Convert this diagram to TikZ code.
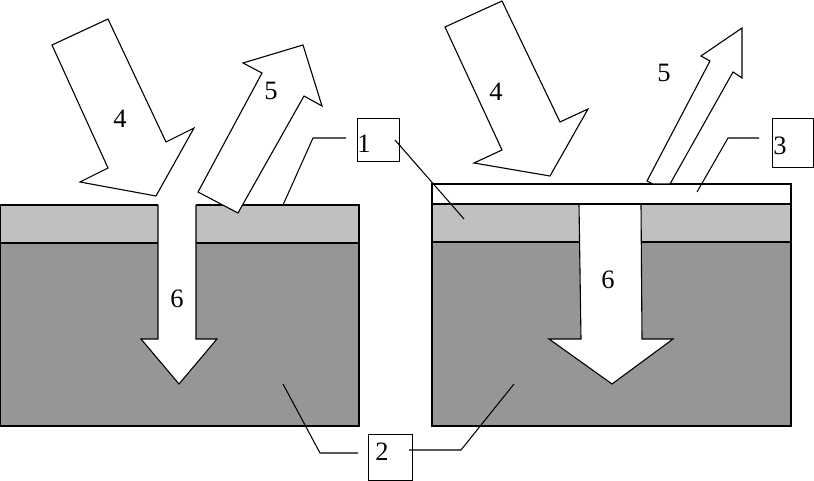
\documentclass[tikz,border=0pt]{standalone}
\usepackage{fontspec}
\setmainfont{Liberation Serif}
\definecolor{lightband}{RGB}{192,192,192}
\definecolor{darkbulk}{RGB}{150,150,150}
\begin{document}
\begin{tikzpicture}[x=1pt,y=-1pt,line join=miter,
  outline/.style={draw=black,line width=1.1pt},
  arrowshape/.style={fill=white,draw=black,line width=1.1pt},
  leader/.style={draw=black,line width=1.05pt},
  lbox/.style={draw=black,line width=1pt,fill=white,inner sep=0pt},
  num/.style={font=\fontsize{26.5}{26.5}\selectfont,inner sep=0pt}]
\useasboundingbox (0,0) rectangle (814,481);
% ---------- left sample ----------
\fill[darkbulk] (0,243) rectangle (359,426);
\fill[lightband] (0,205) rectangle (359,243);
\draw[outline] (0.6,205) rectangle (359,426);
\draw[outline] (0.6,243) -- (359,243);
% arrow 6 (left)
\fill[white] (158,203) -- (158,339) -- (141,339) -- (179,384) -- (217,339) -- (196,339) -- (196,203) -- cycle;
\draw[outline] (158,205) -- (158,339) -- (141,339) -- (179,384) -- (217,339) -- (196,339) -- (196,205);
% arrow 4 (left)
\draw[arrowshape] (52,45) -- (108,19) -- (166,142) -- (194,128) -- (156,196) -- (80,182) -- (108,168) -- cycle;
% arrow 5 (left)
\draw[arrowshape] (198,192) -- (238,213) -- (304,96) -- (322,106) -- (303,45) -- (243,63) -- (262,73) -- cycle;
% ---------- right sample ----------
\fill[darkbulk] (432,242) rectangle (791,426);
\fill[lightband] (432,204) rectangle (791,242);
\fill[white] (432,184) rectangle (791,204);
% arrow 6 (right) gap
\fill[white] (579,205) -- (581,339) -- (549,339) -- (612,384) -- (673,339) -- (642,339) -- (641,205) -- cycle;
\draw[outline] (432,184) rectangle (791,426);
\draw[outline] (432,204) -- (791,204);
\draw[outline] (432,242) -- (579.5,242);
\draw[outline] (641.5,242) -- (791,242);
\draw[outline] (579,204) -- (581,339) -- (549,339) -- (612,384) -- (673,339) -- (642,339) -- (641,204);
% arrow 4 (right)
\draw[arrowshape] (445,27) -- (502,1) -- (560,122) -- (588,109) -- (550,176) -- (474,163) -- (502,150) -- cycle;
% arrow 5 (right)
\draw[arrowshape] (647,181) -- (653,184) -- (670,184) -- (733,72) -- (742,78) -- (742,28) -- (701,56) -- (710,61) -- cycle;
% ---------- label boxes ----------
\node[lbox,minimum width=42pt,minimum height=43pt] (b1) at (378,140.5) {};
\node[lbox,minimum width=41pt,minimum height=49pt] (b3) at (792.5,143.5) {};
\node[lbox,minimum width=44pt,minimum height=46pt] (b2) at (390,457) {};
% ---------- leaders ----------
\coordinate (p1a) at (283,205);
\coordinate (p1b) at (464,219);
\coordinate (p3) at (697,192);
\coordinate (p2a) at (283,384);
\coordinate (p2b) at (514,384);
\coordinate (s1) at (395,140);
\coordinate (s2) at (409,450);
\draw[leader] (p1a) -- (313,138) -- (346,138);
\draw[leader] (s1) -- (p1b);
\draw[leader] (p3) -- (728,138) -- (759,138);
\draw[leader] (p2a) -- (320,453) -- (358,453);
\draw[leader] (s2) -- (461,450) -- (p2b);
% ---------- texts ----------
\node[num] (t1) at (364,144) {1};
\node[num] (t3) at (780,146) {3};
\node[num] (t2) at (382,452) {2};
\node[num] (n4a) at (120,119) {4};
\node[num] (n5a) at (271,91) {5};
\node[num] (n6a) at (177,299) {6};
\node[num] (n4b) at (496,92) {4};
\node[num] (n5b) at (664,73) {5};
\node[num] (n6b) at (608,280) {6};
\end{tikzpicture}
\end{document}
